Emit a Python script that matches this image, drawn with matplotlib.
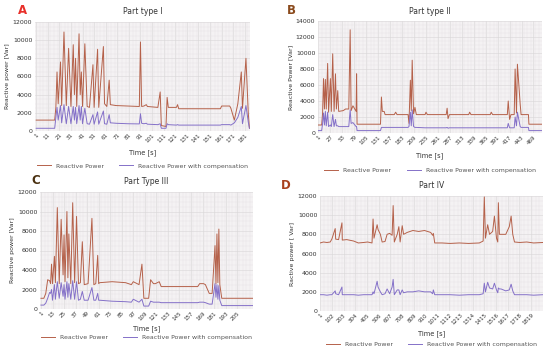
import numpy as np
import matplotlib
matplotlib.use("Agg")
import matplotlib.pyplot as plt
from matplotlib.lines import Line2D

# ---- panel A : Part type I ----
a_t = [1, 17, 18, 19, 20, 22, 23, 25, 27, 29, 31, 33, 34, 35, 36, 38, 39, 40, 41, 43, 45, 47, 50, 51,
       54, 55, 59, 60, 62, 64, 65, 70, 80, 90, 91, 92, 94, 96, 97, 106, 108, 109, 113, 114, 115,
       122, 123, 124, 160, 161, 168, 169, 172, 175, 178, 179, 182, 184, 185]
a_rp = [1200, 1200, 2600, 6500, 3000, 7600, 2800, 10900, 2800, 9100, 2700, 9500, 4000, 8000, 2700,
        10700, 4000, 6500, 2700, 9600, 2700, 2600, 7300, 2600, 9000, 2600, 9300, 3000, 2700, 5600,
        2900, 2800, 2750, 2700, 9800, 2700, 2750, 2900, 2700, 2600, 4300, 600, 500, 3700, 2600,
        2600, 2900, 2450, 2450, 2750, 2750, 2500, 1200, 3000, 6500, 2500, 8000, 2000, 300]
a_rc = [300, 300, 1500, 2600, 1200, 2800, 900, 2900, 800, 2700, 800, 2700, 1200, 2600, 800,
        2800, 1200, 2700, 800, 2500, 800, 750, 1800, 750, 2100, 750, 2200, 800, 750, 1800,
        900, 850, 800, 780, 1900, 850, 800, 850, 750, 700, 800, 300, 300, 800, 700,
        650, 700, 650, 650, 700, 700, 650, 900, 1500, 2700, 800, 2800, 1000, 300]

# ---- panel B : Part type II ----
b_t = [1, 8, 10, 12, 14, 16, 18, 21, 23, 27, 29, 32, 35, 38, 40, 43, 45, 55, 60, 67, 70, 72, 76, 83,
       84, 85, 136, 138, 140, 144, 146, 166, 169, 172, 196, 198, 201, 203, 205, 208, 211, 214, 233,
       235, 238, 279, 281, 283, 286, 328, 330, 333, 375, 377, 380, 412, 414, 417, 420, 427, 429, 432,
       434, 440, 442, 458, 459, 487]
b_rp = [1000, 1000, 2500, 6800, 3000, 6700, 3000, 8700, 2600, 6800, 2700, 9900, 2700, 7400, 3000,
        5300, 2700, 2800, 3000, 3000, 12900, 2800, 3400, 2700, 7400, 1100, 1100, 4500, 2700, 2700,
        2300, 2300, 2600, 2300, 2300, 1200, 6600, 2800, 9100, 2400, 3200, 2300, 2300, 2600, 2300,
        2300, 3100, 1800, 2300, 2300, 2600, 2300, 2300, 2600, 2300, 2300, 4000, 1700, 2300, 2300,
        8000, 2500, 8600, 3600, 2300, 2300, 1100, 1100]
b_rc = [300, 300, 1200, 2500, 1000, 2700, 900, 2600, 800, 1000, 800, 2300, 800, 1700, 900,
        900, 800, 800, 800, 800, 2900, 1200, 1300, 800, 800, 300, 300, 700, 700, 700,
        700, 700, 700, 700, 700, 800, 2600, 900, 2900, 800, 700, 700, 650, 650, 650,
        650, 700, 600, 650, 650, 650, 650, 650, 650, 650, 650, 1200, 650, 650, 650,
        2000, 900, 2600, 800, 700, 700, 300, 300]

# ---- panel C : Part Type III ----
c_t = [1, 4, 6, 8, 10, 11, 12, 13, 15, 16, 18, 20, 22, 24, 25, 26, 28, 29, 30, 32, 34, 36, 38,
       40, 42, 44, 46, 50, 54, 56, 58, 60, 61, 62, 75, 89, 95, 97, 103, 106, 108, 113, 115, 118,
       120, 124, 126, 164, 166, 170, 172, 176, 179, 182, 183, 184, 185, 186, 187, 189, 221]
c_rp = [1100, 1100, 1600, 3000, 2900, 2600, 4600, 2600, 5400, 2700, 10400, 2600, 9200, 3500,
        7600, 2800, 10000, 3200, 7700, 2600, 10900, 2700, 9500, 2600, 2700, 6900, 2500, 2600,
        9300, 2500, 2600, 5500, 2600, 2700, 2800, 2700, 2500, 2800, 2500, 4600, 1100, 1100, 3000,
        2600, 2600, 2800, 2300, 2300, 2600, 2600, 2500, 1600, 1600, 6500, 2600, 7700, 2700, 8200,
        2500, 1100, 1100]
c_rc = [400, 400, 600, 1100, 1700, 1600, 2000, 900, 2500, 1000, 2800, 1100, 2700, 1300,
        2500, 1000, 2800, 1200, 2600, 1000, 2900, 1000, 2800, 900, 1000, 1800, 900, 900,
        2200, 900, 900, 1600, 900, 900, 800, 750, 700, 1000, 700, 1000, 300, 300, 800,
        700, 700, 700, 650, 650, 700, 700, 650, 500, 500, 2600, 1200, 2500, 1000, 2400,
        900, 350, 350]

# ---- panel D : Part IV ----
d_t = [1, 30, 60, 88, 102, 131, 135, 160, 189, 192, 230, 290, 330, 376, 410, 448, 457, 465, 492,
       500, 520, 535, 560, 578, 600, 621, 630, 640, 665, 679, 690, 708, 720, 751, 800, 850, 900,
       953, 970, 976, 988, 1050, 1120, 1200, 1280, 1372, 1405, 1415, 1425, 1444, 1460, 1487, 1502,
       1520, 1531, 1536, 1545, 1559, 1600, 1630, 1646, 1660, 1675, 1720, 1780, 1840, 1920]
d_rp = [7100, 7200, 7150, 7200, 7500, 8600, 7500, 7450, 9200, 7400, 7450, 7300, 7100, 7150,
        7200, 7100, 9600, 7600, 9000, 8500, 8000, 7200, 7250, 8000, 8100, 7900, 11000, 7200, 8000,
        8800, 7200, 8900, 8000, 8200, 8400, 8300, 8400, 8200, 7900, 8100, 7100, 7100, 7050, 7100,
        7050, 7100, 7300, 11900, 7600, 9000, 8000, 8300, 9900, 7600, 7200, 11300, 8000, 8000,
        8000, 8800, 9900, 8000, 7200, 7150, 7200, 7100, 7150]
d_rc = [1700, 1700, 1650, 1700, 1700, 2100, 1800, 1700, 2500, 1700, 1700, 1700, 1650, 1700,
        1700, 1700, 2000, 1800, 3100, 2500, 2000, 1700, 1800, 2300, 1800, 2500, 3300, 1700, 2200,
        2200, 1700, 2200, 1900, 2000, 2000, 2100, 2000, 2000, 1800, 2200, 1700, 1700, 1700, 1650,
        1700, 1700, 1800, 2900, 2000, 3000, 2400, 2300, 2900, 2200, 1900, 2400, 2300, 2300,
        2100, 2200, 2800, 2100, 1700, 1700, 1700, 1650, 1700]

panels = [
    dict(t=a_t, rp=a_rp, rc=a_rc, ticks=list(range(1, 182, 10)), ymax=12000, title="Part type I",
         ylabel="Reactive power [Var]", letter="A", lcol="#e8302a"),
    dict(t=b_t, rp=b_rp, rc=b_rc, ticks=list(range(1, 470, 26)), ymax=14000, title="Part type II",
         ylabel="Reactive Power [Var]", letter="B", lcol="#8a4a1c"),
    dict(t=c_t, rp=c_rp, rc=c_rc, ticks=list(range(1, 206, 12)), ymax=12000, title="Part Type III",
         ylabel="Reactive power [Var]", letter="C", lcol="#4a3010"),
    dict(t=d_t, rp=d_rp, rc=d_rc, ticks=list(range(1, 1820, 101)), ymax=12000, title="Part IV",
         ylabel="Ractive power [ Var]", letter="D", lcol="#a8401c"),
]

# pixel boxes: left, right, top, bottom
boxes = [(35, 250, 22, 131), (318, 542, 21, 133), (40, 253, 192, 309), (320, 543, 196, 311)]
letter_pos = [(22, 10), (291, 10), (36, 181), (286, 185)]
legend_y = [166, 170, 337, 344]
xlab_y = [153, 156, 329, 334]

W, H = 550, 351
fig = plt.figure(figsize=(W / 100, H / 100), dpi=100)
fig.patch.set_facecolor("white")

RP_COL = "#b5614a"
RC_COL = "#8470c8"

for p, (l, r, top, bot), (lx, ly), lgy, xly in zip(panels, boxes, letter_pos, legend_y, xlab_y):
    ax = fig.add_axes([l / W, 1 - bot / H, (r - l) / W, (bot - top) / H])
    ax.set_facecolor("#f4f2f3")
    t = p["t"]
    ax.plot(t, p["rp"], color=RP_COL, lw=0.7)
    ax.plot(t, p["rc"], color=RC_COL, lw=0.7)
    ax.set_xlim(0, t[-1] + 0.5)
    ax.set_ylim(0, p["ymax"])
    ax.set_yticks(range(0, p["ymax"] + 1, 2000))
    ax.set_xticks(p["ticks"])
    ax.set_xticklabels([str(v) for v in p["ticks"]], rotation=45, ha="right", fontsize=4,
                       rotation_mode="anchor", color="#333333")
    ax.tick_params(axis="y", labelsize=4.5, length=0, pad=2, colors="#333333")
    ax.tick_params(axis="x", length=0, pad=1)
    ax.set_yticks(np.arange(0, p["ymax"] + 1, 500), minor=True)
    span = t[-1]
    ax.set_xticks(np.arange(1, span, span / 60), minor=True)
    ax.tick_params(which="minor", length=0)
    ax.grid(which="major", color="#d9d6d8", lw=0.4)
    ax.grid(which="minor", color="#e6e3e5", lw=0.3)
    ax.set_axisbelow(True)
    for s in ax.spines.values():
        s.set_visible(False)
    ax.set_ylabel(p["ylabel"], fontsize=4.5, labelpad=2, color="#333333")
    fig.text((l + r) / 2 / W, 1 - xly / H, "Time [s]", fontsize=4.8, ha="center", va="center",
             color="#333333")
    fig.text((l + r) / 2 / W, 1 - (top - 10) / H, p["title"], fontsize=5.5, ha="center",
             va="center", color="#333333")
    fig.text(lx / W, 1 - ly / H, p["letter"], fontsize=8.5, fontweight="bold", color=p["lcol"],
             ha="center", va="center")
    handles = [Line2D([], [], color=RP_COL, lw=0.7), Line2D([], [], color=RC_COL, lw=0.7)]
    fig.legend(handles, ["Reactive Power", "Reactive Power with compensation"],
               loc="center", bbox_to_anchor=((l + r) / 2 / W, 1 - lgy / H), ncol=2,
               frameon=False, fontsize=4.5, handlelength=2.2, columnspacing=2.5,
               labelcolor="#555555")

fig.savefig("out.png", dpi=100)
